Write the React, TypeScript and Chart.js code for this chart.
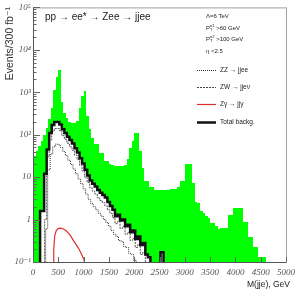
import { useEffect, useRef } from "react";
import { Chart, registerables } from "chart.js";
Chart.register(...registerables);

// ---------- data ----------
const signalEdges = [0, 50, 100, 150, 200, 250, 300, 350, 400, 450, 500, 550, 600, 650, 700, 750, 800, 850, 900, 950,
  1000, 1050, 1100, 1150, 1200, 1250, 1300, 1350, 1400, 1450, 1500, 1550, 1600, 1650, 1700, 1750, 1800, 1850, 1900, 1950,
  2000, 2050, 2100, 2150, 2200, 2250, 2300, 2350, 2400, 2450, 2500, 2550, 2600, 2650, 2700, 2750, 2800, 2850, 2900, 2950,
  3000, 3050, 3100, 3150, 3200, 3250, 3300, 3350, 3400, 3450, 3500, 3550, 3600, 3650, 3700, 3750, 3800, 3850, 3900, 3950,
  4000, 4050, 4100, 4150, 4200, 4250, 4300, 4350, 4400, 4450, 4500, 4550, 4600];
const signalValues = [31, 41, 55, 71, 100, 140, 230, 415, 1150, 2350, 3400, 600, 320, 245, 195, 185, 185, 215, 415, 800,
  1050, 270, 135, 83, 60, 60, 37, 37, 24, 24, 20, 19, 18, 18, 18, 18, 19, 27, 49, 71,
  110, 110, 41, 16.6, 8.3, 8.3, 6, 6, 5, 5, 5, 5, 5, 5, 5.3, 5.3, 5.3, 6, 8.3, 8.3,
  20, 20, 20, 7.4, 2.6, 2.4, 1.6, 1.4, 1.2, 1.1, 0.85, 0.85, 0.72, 0.6, 0.62, 0.62, 0.62, 1.25, 1.25, 1.9,
  1.9, 1.9, 1.9, 0.86, 0.86, 0.38, 0.38, 0.22, 0.22, 0.13, 0.13, 0.13, 0.01];

const totalEdges = [140, 140, 220, 270, 320, 370, 420, 470, 520, 570, 620, 670, 720, 770, 820, 870, 920, 970, 1020, 1070,
  1120, 1170, 1220, 1270, 1320, 1370, 1420, 1470, 1520, 1570, 1620, 1670, 1720, 1770, 1820, 1870, 1920, 1970, 2020, 2070,
  2120, 2170, 2220, 2270, 2320, 2520, 2580];
const totalValues = [0.01, 1.6, 12, 45, 110, 170, 200, 200, 175, 135, 110, 90, 75, 62, 48, 38, 28, 21, 15, 11,
  8.3, 7, 6, 5, 4.3, 3.8, 3.3, 2.6, 2.1, 1.7, 1.2, 1.3, 0.95, 1.0, 0.7, 0.75, 0.5, 0.55, 0.35, 0.4,
  0.25, 0.28, 0.15, 0.13, 0.01, 0.17, 0.01];

const zwEdges = [230, 230, 270, 320, 370, 420, 470, 520, 570, 620, 670, 720, 770, 820, 870, 920, 970, 1020, 1070, 1120,
  1170, 1220, 1270, 1320, 1370, 1420, 1470, 1520, 1570, 1620, 1670, 1720, 1770, 1820, 1870, 1920, 1970, 2020, 2070, 2120,
  2170, 2220];
const zwValues = [0.01, 1.0, 30, 75, 120, 140, 140, 125, 95, 78, 63, 52, 43, 33, 26, 19, 14, 10, 7.5, 5.6,
  4.7, 4.0, 3.3, 2.8, 2.5, 2.1, 1.7, 1.4, 1.1, 0.8, 0.9, 0.62, 0.68, 0.45, 0.5, 0.32, 0.36, 0.22, 0.26, 0.15,
  0.17, 0.01];

const zzEdges = [250, 250, 290, 340, 390, 440, 490, 540, 590, 640, 690, 740, 790, 840, 890, 940, 990, 1040, 1090, 1140,
  1190, 1240, 1290, 1340, 1390, 1440, 1490, 1540, 1590, 1640, 1690, 1740, 1790, 1840, 1890, 1940, 1990, 2040];
const zzValues = [0.01, 0.6, 15, 35, 52, 60, 58, 50, 40, 32, 25, 20, 15.5, 12, 9, 7, 5.3, 4, 3, 2.4,
  2.0, 1.7, 1.4, 1.2, 1.0, 0.85, 0.7, 0.55, 0.45, 0.4, 0.32, 0.3, 0.23, 0.22, 0.16, 0.15, 0.11, 0.01];

const zgMass = [400, 410, 430, 460, 500, 550, 600, 650, 700, 750, 800, 850, 900, 950, 1000, 1040];
const zgValues = [0.01, 0.2, 0.42, 0.55, 0.62, 0.63, 0.6, 0.55, 0.48, 0.4, 0.32, 0.26, 0.21, 0.16, 0.12, 0.08];

const xTickValues = [0, 500, 1000, 1500, 2000, 2500, 3000, 3500, 4000, 4500, 5000];
const yTickValues = [0.1, 1, 10, 100, 1000, 10000, 100000];
const yTickLabels = ["10\u207B\u00B9", "1", "10", "10\u00B2", "10\u00B3", "10\u2074", "10\u2075"];

const legendLabels = ["ZZ \u2192 jjee", "ZW \u2192 jje\u03BD", "Z\u03B3 \u2192 jj\u03B3", "Total backg."];
const titleText = "pp \u2192 ee* \u2192 Zee \u2192 jjee";
const yAxisTitle = "Events/300 fb\u207B\u00B9";
const xAxisTitle = "M(jje), GeV";

const pts = (xs: number[], ys: number[]) => xs.map((x, i) => ({ x, y: ys[i] }));

const SANS = '"Liberation Sans", "DejaVu Sans", sans-serif';
const SERIF = '"Liberation Serif", "DejaVu Serif", serif';
const TOTAL_INDEX = 0;
const SIGNAL_INDEX = 4;
const LEGEND_ROWS = [70, 87, 104, 122];

function fillBins(ctx: any, a: any, p: any[], color: string) {
  ctx.fillStyle = color;
  const bottom = Math.round(a.bottom);
  for (let i = 0; i + 1 < p.length; i++) {
    const x0 = Math.round(p[i].x);
    const x1 = Math.round(p[i + 1].x);
    const top = Math.max(Math.round(a.top), Math.round(p[i].y));
    if (top >= bottom || x1 <= x0) continue;
    ctx.fillRect(x0, top, x1 - x0, bottom - top);
  }
}

const histFill = {
  id: "histFill",
  beforeDatasetsDraw(chart: any) {
    const { ctx, chartArea: a } = chart;
    ctx.save();
    fillBins(ctx, a, chart.getDatasetMeta(SIGNAL_INDEX).data, "#00ff00");
    fillBins(ctx, a, chart.getDatasetMeta(TOTAL_INDEX).data, "#ffffff");
    ctx.restore();
  },
};

const decor = {
  id: "decor",
  afterDraw(chart: any) {
    const { ctx, chartArea: a, scales } = chart;
    const xs = scales.x, ys = scales.y;
    ctx.save();
    ctx.strokeStyle = "#a0a0a0";
    ctx.lineWidth = 1;
    ctx.strokeRect(a.left + 0.5, a.top + 0.5, a.right - a.left, a.bottom - a.top);
    ctx.strokeStyle = "#555";
    ctx.beginPath();
    ctx.moveTo(a.left + 0.5, a.top);
    ctx.lineTo(a.left + 0.5, a.bottom + 0.5);
    ctx.lineTo(a.right, a.bottom + 0.5);
    ctx.stroke();
    ctx.strokeStyle = "#666";
    ctx.beginPath();
    for (let e = -1; e <= 4; e++) {
      for (let m = 1; m <= 9; m++) {
        const v = m * Math.pow(10, e);
        const py = Math.round(ys.getPixelForValue(v)) + 0.5;
        ctx.moveTo(a.left, py);
        ctx.lineTo(a.left + (m === 1 ? 7 : 3.5), py);
      }
    }
    const pt = Math.round(ys.getPixelForValue(1e5)) + 0.5;
    ctx.moveTo(a.left, pt);
    ctx.lineTo(a.left + 7, pt);
    xTickValues.forEach((v) => {
      const px = Math.round(xs.getPixelForValue(v)) + 0.5;
      ctx.moveTo(px, a.bottom);
      ctx.lineTo(px, a.bottom - 5);
    });
    ctx.stroke();

    const styles = [
      { c: "#333", w: 1, d: [1, 1] },
      { c: "#444", w: 1, d: [2, 1] },
      { c: "#e03030", w: 1.2, d: [] },
      { c: "#111", w: 2.5, d: [] },
    ];
    LEGEND_ROWS.forEach((y, i) => {
      const s = styles[i];
      ctx.strokeStyle = s.c;
      ctx.lineWidth = s.w;
      ctx.setLineDash(s.d);
      ctx.beginPath();
      ctx.moveTo(197, y + 0.5);
      ctx.lineTo(216, y + 0.5);
      ctx.stroke();
    });
    ctx.setLineDash([]);
    ctx.restore();
  },
};

const abs = (left: number, top: number, size: number, extra: any = {}) => ({
  position: "absolute" as const,
  left,
  top,
  fontSize: size,
  lineHeight: 1,
  fontFamily: SANS,
  color: "#222",
  whiteSpace: "nowrap" as const,
  transform: "translateY(-50%)",
  ...extra,
});

export default function App() {
  const ref = useRef<HTMLCanvasElement>(null);
  useEffect(() => {
    if (!ref.current) return;
    const chart = new Chart(ref.current, {
      type: "line",
      data: {
        datasets: [
          { label: legendLabels[3], data: pts(totalEdges, totalValues), stepped: true, borderColor: "#111", borderWidth: 2.5, pointRadius: 0, fill: false },
          { label: legendLabels[1], data: pts(zwEdges, zwValues), stepped: true, borderColor: "#555", borderWidth: 1, borderDash: [2, 1], pointRadius: 0, fill: false },
          { label: legendLabels[0], data: pts(zzEdges, zzValues), stepped: true, borderColor: "#333", borderWidth: 1, borderDash: [1, 1], pointRadius: 0, fill: false },
          { label: legendLabels[2], data: pts(zgMass, zgValues), borderColor: "#e03030", borderWidth: 1.2, pointRadius: 0, fill: false },
          { label: "signal", data: pts(signalEdges, signalValues), stepped: true, borderColor: "rgba(0,0,0,0)", borderWidth: 0, pointRadius: 0, fill: false },
        ],
      },
      options: {
        animation: false,
        responsive: false,
        layout: { padding: { top: 5, right: 11, left: 0, bottom: 0 } },
        plugins: { legend: { display: false }, tooltip: { enabled: false } },
        scales: {
          x: {
            type: "linear",
            min: 0,
            max: 5000,
            afterBuildTicks: (s: any) => {
              s.ticks = xTickValues.map((v) => ({ value: v }));
            },
            afterFit: (s: any) => {
              s.height = 29;
            },
            grid: { display: false, drawTicks: false },
            border: { display: false },
            ticks: {
              padding: 5,
              maxRotation: 0,
              autoSkip: false,
              color: "#555",
              font: { family: SERIF, style: "italic", size: 9 },
              callback: (v: any) => String(v),
            },
          },
          y: {
            type: "logarithmic",
            min: 0.1,
            max: 100000,
            afterBuildTicks: (s: any) => {
              s.ticks = yTickValues.map((v) => ({ value: v }));
            },
            afterFit: (s: any) => {
              s.width = 33;
            },
            grid: { display: false, drawTicks: false },
            border: { display: false },
            ticks: {
              padding: 2,
              autoSkip: false,
              color: "#555",
              font: { family: SERIF, style: "italic", size: 9 },
              callback: (v: any) => {
                const i = yTickValues.findIndex((t) => Math.abs(t - Number(v)) < 1e-9 * Math.max(1, t));
                return i >= 0 ? yTickLabels[i] : "";
              },
            },
          },
        },
      },
      plugins: [histFill, decor],
    });
    return () => chart.destroy();
  }, []);

  const small = { fontSize: 4, position: "relative" as const };
  return (
    <div style={{ position: "fixed", left: 0, top: 0, width: 300, height: 291, background: "#fff", overflow: "hidden" }}>
      <canvas ref={ref} width={300} height={291} style={{ display: "block" }} />
      <div style={abs(45, 17, 10)}>{titleText}</div>
      <div style={abs(206, 16, 6)}>{"\u039B=6 TeV"}</div>
      <div style={abs(206, 28, 6)}>
        P<span style={{ display: "inline-block", verticalAlign: "middle", lineHeight: 1 }}>
          <span style={{ ...small, display: "block" }}>e1</span>
          <span style={{ ...small, display: "block" }}>T</span>
        </span>
        {" >60 GeV"}
      </div>
      <div style={abs(206, 39, 6)}>
        P<span style={{ display: "inline-block", verticalAlign: "middle", lineHeight: 1 }}>
          <span style={{ ...small, display: "block" }}>e2</span>
          <span style={{ ...small, display: "block" }}>T</span>
        </span>
        {" >100 GeV"}
      </div>
      <div style={abs(206, 51, 6)}>{"\u03B7 <2.5"}</div>
      {LEGEND_ROWS.map((y, i) => (
        <div key={i} style={abs(220, y, 6.5)}>
          {legendLabels[i]}
        </div>
      ))}
      <div
        style={{
          position: "absolute",
          left: 9,
          top: 7,
          fontSize: 10.5,
          lineHeight: 1,
          fontFamily: SANS,
          color: "#333",
          whiteSpace: "nowrap",
          transformOrigin: "0 0",
          transform: "rotate(-90deg) translate(-100%, -50%)",
        }}
      >
        {yAxisTitle}
      </div>
      <div style={abs(290, 284, 8.5, { transform: "translate(-100%, -50%)" })}>{xAxisTitle}</div>
    </div>
  );
}
